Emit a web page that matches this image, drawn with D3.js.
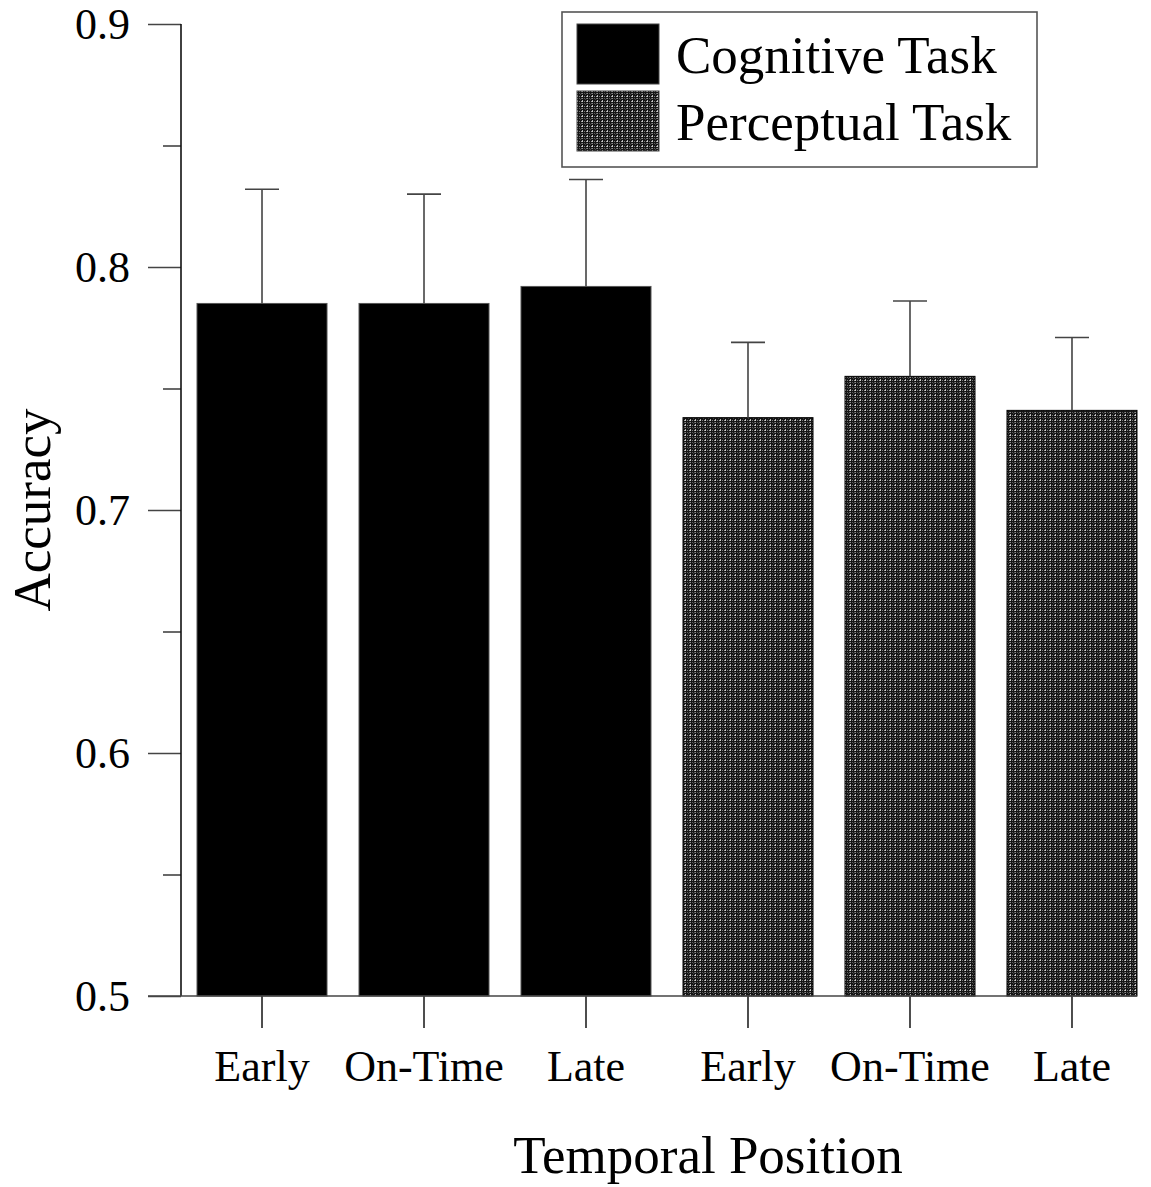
<!doctype html>
<html lang='en'>
<head>
    <meta charset='UTF-8'>
    <title>Accuracy by Temporal Position</title>
    <style>
        html, body {
            margin: 0;
            background: #fff;
        }
        svg text {
            font-family: "Liberation Serif", "Times New Roman", serif;
            fill: #000;
        }
    </style>
</head>
<body>
    <script src='https://d3js.org/d3.v7.min.js'></script>
    <div class='chart'></div>
    <script>
        // data
        const positions = ['Early', 'On-Time', 'Late'];
        const tasks = ['Cognitive Task', 'Perceptual Task'];
        const cognitiveMeans = [0.785, 0.785, 0.792];
        const cognitiveErrors = [0.047, 0.045, 0.044];
        const perceptualMeans = [0.738, 0.755, 0.741];
        const perceptualErrors = [0.031, 0.031, 0.030];
        const yTicks = [0.5, 0.6, 0.7, 0.8, 0.9];
        const yMinorTicks = [0.55, 0.65, 0.75, 0.85];

        const bars = [];
        positions.forEach((p, i) => bars.push({task: 0, label: p, mean: cognitiveMeans[i], err: cognitiveErrors[i]}));
        positions.forEach((p, i) => bars.push({task: 1, label: p, mean: perceptualMeans[i], err: perceptualErrors[i]}));

        const config = {
            width: 1151,
            height: 1187,
            axisX: 181,
            top: 24,
            bottom: 996,
            right: 1153,
            majorTick: 33,
            minorTick: 18,
            xTick: 32,
            capHalf: 17,
            fontSize: 44,
            titleSize: 53
        };

        const svg = d3.select('.chart')
            .append('svg')
            .attr('width', config.width)
            .attr('height', config.height);

        // dithered dark grey fill used for the perceptual bars
        const defs = svg.append('defs');
        const pat = defs.append('pattern')
            .attr('id', 'dither')
            .attr('patternUnits', 'userSpaceOnUse')
            .attr('width', 5)
            .attr('height', 5);
        pat.append('rect').attr('width', 5).attr('height', 5).attr('fill', '#161616');
        const dots = [
            [0, 0, '#d0d0d0'], [2, 0, '#7a7a7a'], [4, 0, '#a0a0a0'],
            [0, 2, '#8a8a8a'], [2, 2, '#5a5a5a'], [0, 4, '#b0b0b0'],
            [3, 3, '#444'], [4, 2, '#666']
        ];
        pat.selectAll('rect.px')
            .data(dots)
            .enter()
            .append('rect')
            .classed('px', true)
            .attr('x', (d) => d[0])
            .attr('y', (d) => d[1])
            .attr('width', 1)
            .attr('height', 1)
            .attr('fill', (d) => d[2]);

        const fills = ['#000', 'url(#dither)'];

        const x = d3.scaleBand()
            .domain(d3.range(bars.length))
            .range([config.axisX, config.right])
            .paddingInner(0.1975)
            .paddingOuter(0.0988);

        const y = d3.scaleLinear()
            .domain([0.5, 0.9])
            .range([config.bottom, config.top]);

        // bars
        svg.append('g')
            .selectAll('rect')
            .data(bars)
            .enter()
            .append('rect')
            .attr('x', (d, i) => x(i))
            .attr('y', (d) => y(d.mean))
            .attr('width', x.bandwidth())
            .attr('height', (d) => y(0.5) - y(d.mean))
            .attr('fill', (d) => fills[d.task])
            .attr('stroke', (d) => d.task ? '#000' : '#555')
            .attr('stroke-width', 1);

        // error bars (upper half only)
        const errG = svg.append('g')
            .attr('stroke', '#444')
            .attr('stroke-width', 1.6);
        errG.selectAll('line.stem')
            .data(bars)
            .enter()
            .append('line')
            .attr('x1', (d, i) => x(i) + x.bandwidth() / 2)
            .attr('x2', (d, i) => x(i) + x.bandwidth() / 2)
            .attr('y1', (d) => y(d.mean))
            .attr('y2', (d) => y(d.mean + d.err));
        errG.selectAll('line.cap')
            .data(bars)
            .enter()
            .append('line')
            .attr('x1', (d, i) => x(i) + x.bandwidth() / 2 - config.capHalf)
            .attr('x2', (d, i) => x(i) + x.bandwidth() / 2 + config.capHalf)
            .attr('y1', (d) => y(d.mean + d.err))
            .attr('y2', (d) => y(d.mean + d.err));

        // y axis
        const yAxis = svg.append('g')
            .attr('transform', 'translate(' + config.axisX + ',0)')
            .call(d3.axisLeft(y)
                .tickValues(yTicks)
                .tickSize(config.majorTick)
                .tickPadding(18)
                .tickFormat(d3.format('.1f')));
        yAxis.select('.domain').remove();
        yAxis.selectAll('line').attr('stroke', '#444').attr('stroke-width', 1.6);
        yAxis.selectAll('text')
            .attr('font-size', config.fontSize)
            .attr('font-family', '"Liberation Serif", serif')
            .attr('fill', '#000');

        const yMinor = svg.append('g')
            .attr('transform', 'translate(' + config.axisX + ',0)')
            .call(d3.axisLeft(y)
                .tickValues(yMinorTicks)
                .tickSize(config.minorTick)
                .tickFormat(''));
        yMinor.select('.domain').remove();
        yMinor.selectAll('line').attr('stroke', '#444').attr('stroke-width', 1.6);

        svg.append('line')
            .attr('x1', config.axisX)
            .attr('x2', config.axisX)
            .attr('y1', y(0.9))
            .attr('y2', y(0.5))
            .attr('stroke', '#111')
            .attr('stroke-width', 1.6);

        // x axis
        const xAxis = svg.append('g')
            .attr('transform', 'translate(0,' + config.bottom + ')')
            .call(d3.axisBottom(x)
                .tickSize(config.xTick)
                .tickPadding(22)
                .tickFormat((i) => bars[i].label));
        xAxis.select('.domain').remove();
        xAxis.selectAll('line').attr('stroke', '#222').attr('stroke-width', 1.6);
        xAxis.selectAll('text')
            .attr('font-size', config.fontSize)
            .attr('font-family', '"Liberation Serif", serif')
            .attr('fill', '#000');

        svg.append('line')
            .attr('x1', config.axisX - config.majorTick)
            .attr('x2', x(bars.length - 1) + x.bandwidth())
            .attr('y1', config.bottom)
            .attr('y2', config.bottom)
            .attr('stroke', '#444')
            .attr('stroke-width', 1.6);

        // axis titles
        svg.append('text')
            .attr('transform', 'translate(50,' + ((config.top + config.bottom) / 2) + ') rotate(-90)')
            .attr('text-anchor', 'middle')
            .attr('font-size', config.titleSize)
            .text('Accuracy');

        svg.append('text')
            .attr('x', 708)
            .attr('y', 1173)
            .attr('text-anchor', 'middle')
            .attr('font-size', config.titleSize)
            .text('Temporal Position');

        // legend
        const legend = svg.append('g');
        legend.append('rect')
            .attr('x', 562)
            .attr('y', 12)
            .attr('width', 475)
            .attr('height', 155)
            .attr('fill', '#fff')
            .attr('stroke', '#555')
            .attr('stroke-width', 1.6);
        const items = legend.selectAll('g.item')
            .data(tasks)
            .enter()
            .append('g')
            .classed('item', true)
            .attr('transform', (d, i) => 'translate(577,' + (24 + i * 67) + ')');
        items.append('rect')
            .attr('width', 82)
            .attr('height', 60)
            .attr('fill', (d, i) => fills[i])
            .attr('stroke', '#444')
            .attr('stroke-width', 1);
        items.append('text')
            .attr('x', 99)
            .attr('y', 49)
            .attr('font-size', config.titleSize)
            .text((d) => d);
    </script>
</body>
</html>
